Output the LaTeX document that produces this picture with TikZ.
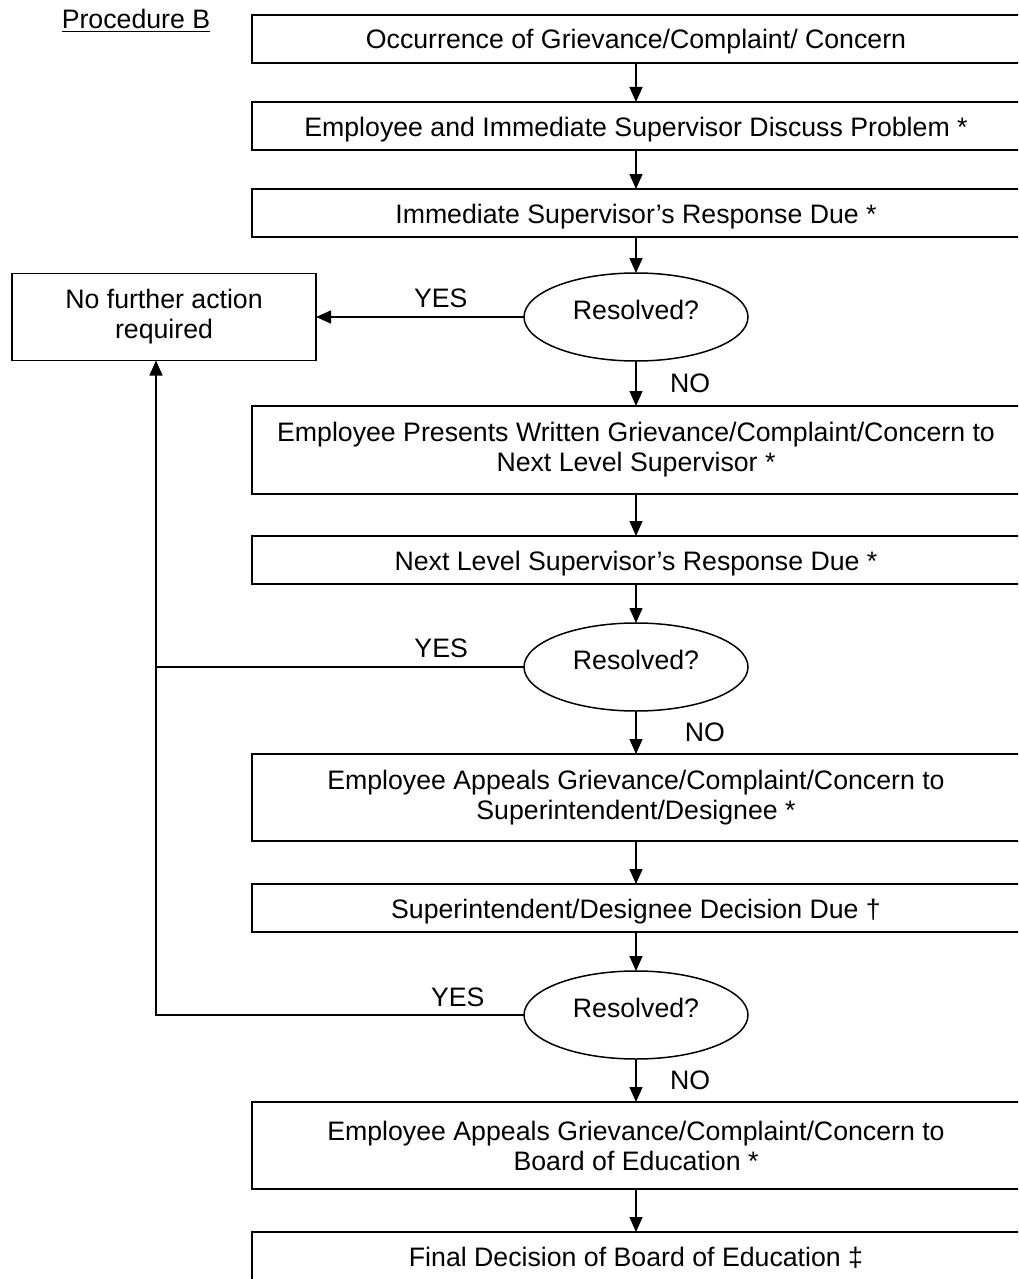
\documentclass[tikz,border=0pt]{standalone}
\usepackage{fontspec}
\setmainfont{Liberation Sans}
\usetikzlibrary{positioning,arrows.meta,shapes.geometric,calc}
\tikzset{
	chart/.style={>={Triangle[length=7.5pt,width=6.5pt]},line width=0.75pt},
	panel/.style={rectangle,draw,line width=0.95pt,minimum width=384pt,outer sep=0pt,align=center},
	stage/.style={panel,minimum height=24pt,text height=12pt,text depth=2pt,inner sep=0pt},
	twoline/.style={panel,minimum height=44pt,inner sep=2pt},
	query/.style={ellipse,draw,line width=0.75pt,minimum width=112pt,minimum height=44pt,
		text height=10pt,text depth=7.6pt,inner sep=0pt,outer sep=0pt},
	outcome/.style={rectangle,draw,line width=0.95pt,minimum width=152pt,minimum height=43.5pt,
		outer sep=0pt,align=center},
	answer/.style={inner sep=2pt}
}

\begin{document}
\begin{tikzpicture}[chart, every node/.style={font=\fontsize{13.35pt}{15pt}\selectfont}]
		\useasboundingbox (0,0) rectangle (509pt,-639.5pt);
		\clip (0,0) rectangle (509pt,-639.5pt);
		
		\node[anchor=base] (title) at (68pt,-14.15pt) {\underline{Procedure B}};
		
		\node[stage] (occur) at (318pt,-19.5pt) {Occurrence of Grievance/Complaint/ Concern};
		\node[stage] (discuss) [below=19.5pt of occur] {Employee and Immediate Supervisor Discuss Problem *};
		\node[stage] (firstdue) [below=19.5pt of discuss] {Immediate Supervisor’s Response Due *};
		\node[query] (resA) [below=18pt of firstdue] {Resolved?};
		\node[outcome] (nfa) [left=104pt of resA] {No further action\\required};
		\node[twoline] (written) [below=22.5pt of resA] {Employee Presents Written Grievance/Complaint/Concern to\\Next Level Supervisor *};
		\node[stage] (nextdue) [below=21pt of written] {Next Level Supervisor’s Response Due *};
		\node[query] (resB) [below=19.5pt of nextdue] {Resolved?};
		\node[twoline,minimum height=43.5pt] (appealsup) [below=21.5pt of resB] {Employee Appeals Grievance/Complaint/Concern to\\Superintendent/Designee *};
		\node[stage] (supdue) [below=21.5pt of appealsup] {Superintendent/Designee Decision Due †};
		\node[query] (resC) [below=19.5pt of supdue] {Resolved?};
		\node[twoline,minimum height=43.5pt] (appealboard) [below=21.5pt of resC] {Employee Appeals Grievance/Complaint/Concern to\\Board of Education *};
		\node[stage] (final) [below=21.5pt of appealboard] {Final Decision of Board of Education ‡};
		
		\coordinate (back) at ($(nfa.south)+(-4pt,0)$);
		
		\draw[->] (occur) -- (discuss);
		\draw[->] (discuss) -- (firstdue);
		\draw[->] (firstdue) -- (resA);
		\draw[->] (resA) -- node[answer,right=14.7pt] {NO} (written);
		\draw[->] (written) -- (nextdue);
		\draw[->] (nextdue) -- (resB);
		\draw[->] (resB) -- node[answer,right=22pt] {NO} (appealsup);
		\draw[->] (appealsup) -- (supdue);
		\draw[->] (supdue) -- (resC);
		\draw[->] (resC) -- node[answer,right=14.7pt] {NO} (appealboard);
		\draw[->] (appealboard) -- (final);
		
		\draw[->] (resA.west) -- node[answer,above=2pt,pos=0.4] {YES} (nfa.east);
		\draw (resB.west) -- node[answer,above=2pt,pos=0.225] {YES} (resB.west -| back);
		\draw[->] (resC.west) -- node[answer,above=2pt,pos=0.18] {YES} (resC.west -| back) -- (back);
		\end{tikzpicture}
\end{document}
